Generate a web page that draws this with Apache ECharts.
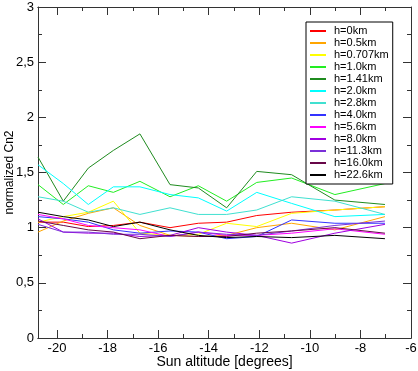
<!DOCTYPE html>
<html>
<head>
<meta charset="utf-8">
<script src="https://cdn.jsdelivr.net/npm/echarts@6/dist/echarts.min.js"></script>
<style>
html, body { margin: 0; padding: 0; background: #fff; }
#chart { width: 418px; height: 371px; }
</style>
</head>
<body>
<div id="chart"></div>
<script>
// sun altitude of each measurement (degrees)
var sunAlt = [-20.75, -19.75, -18.76, -17.77, -16.72, -15.53, -14.41, -13.29, -12.10, -10.72, -9.01, -7.03];

// normalized Cn2 per altitude layer
var h0 = [1.05, 1.05, 1.01, 1.02, 1.05, 1.00, 1.04, 1.05, 1.11, 1.14, 1.16, 1.19];
var h05 = [0.96, 1.06, 1.13, 1.18, 1.02, 0.93, 0.92, 0.93, 1.00, 1.04, 0.98, 1.10];
var h0707 = [1.05, 1.10, 1.14, 1.24, 0.95, 0.93, 0.94, 1.04, 1.01, 1.13, 1.16, 1.19];
var h10 = [1.39, 1.21, 1.38, 1.32, 1.42, 1.28, 1.38, 1.24, 1.41, 1.45, 1.30, 1.40];
var h141 = [1.64, 1.24, 1.54, 1.70, 1.85, 1.39, 1.36, 1.18, 1.51, 1.48, 1.25, 1.21];
var h20 = [1.57, 1.40, 1.21, 1.37, 1.37, 1.30, 1.27, 1.15, 1.32, 1.22, 1.10, 1.12];
var h28 = [1.28, 1.24, 1.14, 1.18, 1.12, 1.18, 1.12, 1.12, 1.16, 1.28, 1.24, 1.12];
var h40 = [1.10, 1.08, 1.05, 0.98, 0.95, 0.97, 0.96, 0.90, 0.92, 1.07, 1.04, 1.04];
var h56 = [1.12, 1.08, 1.02, 1.00, 0.98, 0.92, 0.96, 0.93, 0.93, 0.95, 0.99, 0.94];
var h80 = [1.08, 0.96, 0.95, 0.95, 0.92, 0.93, 1.00, 0.96, 0.93, 0.86, 0.95, 1.03];
var h113 = [1.03, 0.96, 0.96, 0.94, 0.94, 0.92, 0.96, 0.94, 0.93, 0.97, 1.02, 1.06];
var h160 = [1.06, 1.02, 0.98, 0.96, 0.90, 0.93, 0.92, 0.92, 0.95, 0.97, 1.00, 0.95];
var h226 = [1.14, 1.10, 1.07, 1.01, 1.05, 0.98, 0.93, 0.91, 0.92, 0.91, 0.93, 0.90];

var names = ['h=0km', 'h=0.5km', 'h=0.707km', 'h=1.0km', 'h=1.41km', 'h=2.0km', 'h=2.8km',
	'h=4.0km', 'h=5.6km', 'h=8.0km', 'h=11.3km', 'h=16.0km', 'h=22.6km'];
var values = [h0, h05, h0707, h10, h141, h20, h28, h40, h56, h80, h113, h160, h226];
var colors = ['#ff0000', '#ffa500', '#ffff00', '#22ee22', '#1f8b1f', '#00ffff', '#40e0d0',
	'#3333ff', '#ff00ff', '#a000e0', '#7a30d8', '#670748', '#000000'];

var majorX = [-20, -18, -16, -14, -12, -10, -8, -6];
var minorX = [-19, -17, -15, -13, -11, -9, -7];

var font = 'Liberation Sans, Arial, sans-serif';

var series = [];
for (var i = 0; i < names.length; i++) {
	var pts = [];
	for (var j = 0; j < sunAlt.length; j++) {
		pts.push([sunAlt[j], values[i][j]]);
	}
	series.push({
		name : names[i],
		type : 'line',
		data : pts,
		symbol : 'none',
		lineStyle : { width : 1, color : colors[i] },
		itemStyle : { color : colors[i] },
		z : 2
	});
}

function xAxisDef(pos, ticks, len, labels) {
	return {
		type : 'value',
		position : pos,
		min : -20.75,
		max : -6,
		axisLine : { show : true, onZero : false, lineStyle : { color : '#333', width : 1 } },
		axisTick : { show : true, inside : true, length : len, customValues : ticks, lineStyle : { color : '#333' } },
		axisLabel : labels ? { show : true, customValues : majorX, color : '#000', fontSize : 13, fontFamily : font, margin : 4 } : { show : false },
		splitLine : { show : false }
	};
}

var chart = echarts.init(document.getElementById('chart'));
var option = {
	animation : false,
	backgroundColor : '#fff',
	grid : { left : 38, right : 7, top : 7, bottom : 33, outerBoundsMode : 'none', containLabel : false },
	legend : {
		data : names,
		orient : 'vertical',
		left : 306,
		top : 22,
		padding : [ 3, 4, 3, 4 ],
		itemGap : 0,
		itemWidth : 16,
		itemHeight : 2,
		icon : 'rect',
		borderColor : '#000',
		borderWidth : 1,
		backgroundColor : '#fff',
		textStyle : { fontSize : 11, fontFamily : font, color : '#000', lineHeight : 12, padding : [ 0, 0, 0, 3 ] }
	},
	xAxis : [
		xAxisDef('bottom', majorX, 8, true),
		xAxisDef('bottom', minorX, 4, false),
		xAxisDef('top', majorX, 8, false),
		xAxisDef('top', minorX, 4, false)
	],
	yAxis : [ {
		type : 'value',
		min : 0,
		max : 3,
		interval : 0.5,
		name : 'normalized Cn2',
		nameLocation : 'middle',
		nameGap : 22,
		nameMoveOverlap : false,
		nameTextStyle : { fontSize : 12, fontFamily : font, color : '#000' },
		axisLine : { show : true, lineStyle : { color : '#333', width : 1 } },
		axisTick : { show : true, inside : true, length : 8, lineStyle : { color : '#333' } },
		minorTick : { show : true, splitNumber : 2, length : 4, lineStyle : { color : '#333' } },
		axisLabel : {
			color : '#000', fontSize : 13, fontFamily : font, margin : 4,
			formatter : function(v) { return String(v).replace('.', ','); }
		},
		splitLine : { show : false }
	}, {
		type : 'value',
		position : 'right',
		min : 0,
		max : 3,
		interval : 0.5,
		axisLine : { show : true, lineStyle : { color : '#333', width : 1 } },
		axisTick : { show : true, inside : true, length : 8, lineStyle : { color : '#333' } },
		minorTick : { show : true, splitNumber : 2, length : 4, lineStyle : { color : '#333' } },
		axisLabel : { show : false },
		splitLine : { show : false }
	} ],
	series : series
};
option.xAxis[0].name = 'Sun altitude [degrees]';
option.xAxis[0].nameLocation = 'middle';
option.xAxis[0].nameGap = 17;
option.xAxis[0].nameMoveOverlap = false;
option.xAxis[0].nameTextStyle = { fontSize : 14, fontFamily : font, color : '#000' };
chart.setOption(option);
</script>
</body>
</html>
